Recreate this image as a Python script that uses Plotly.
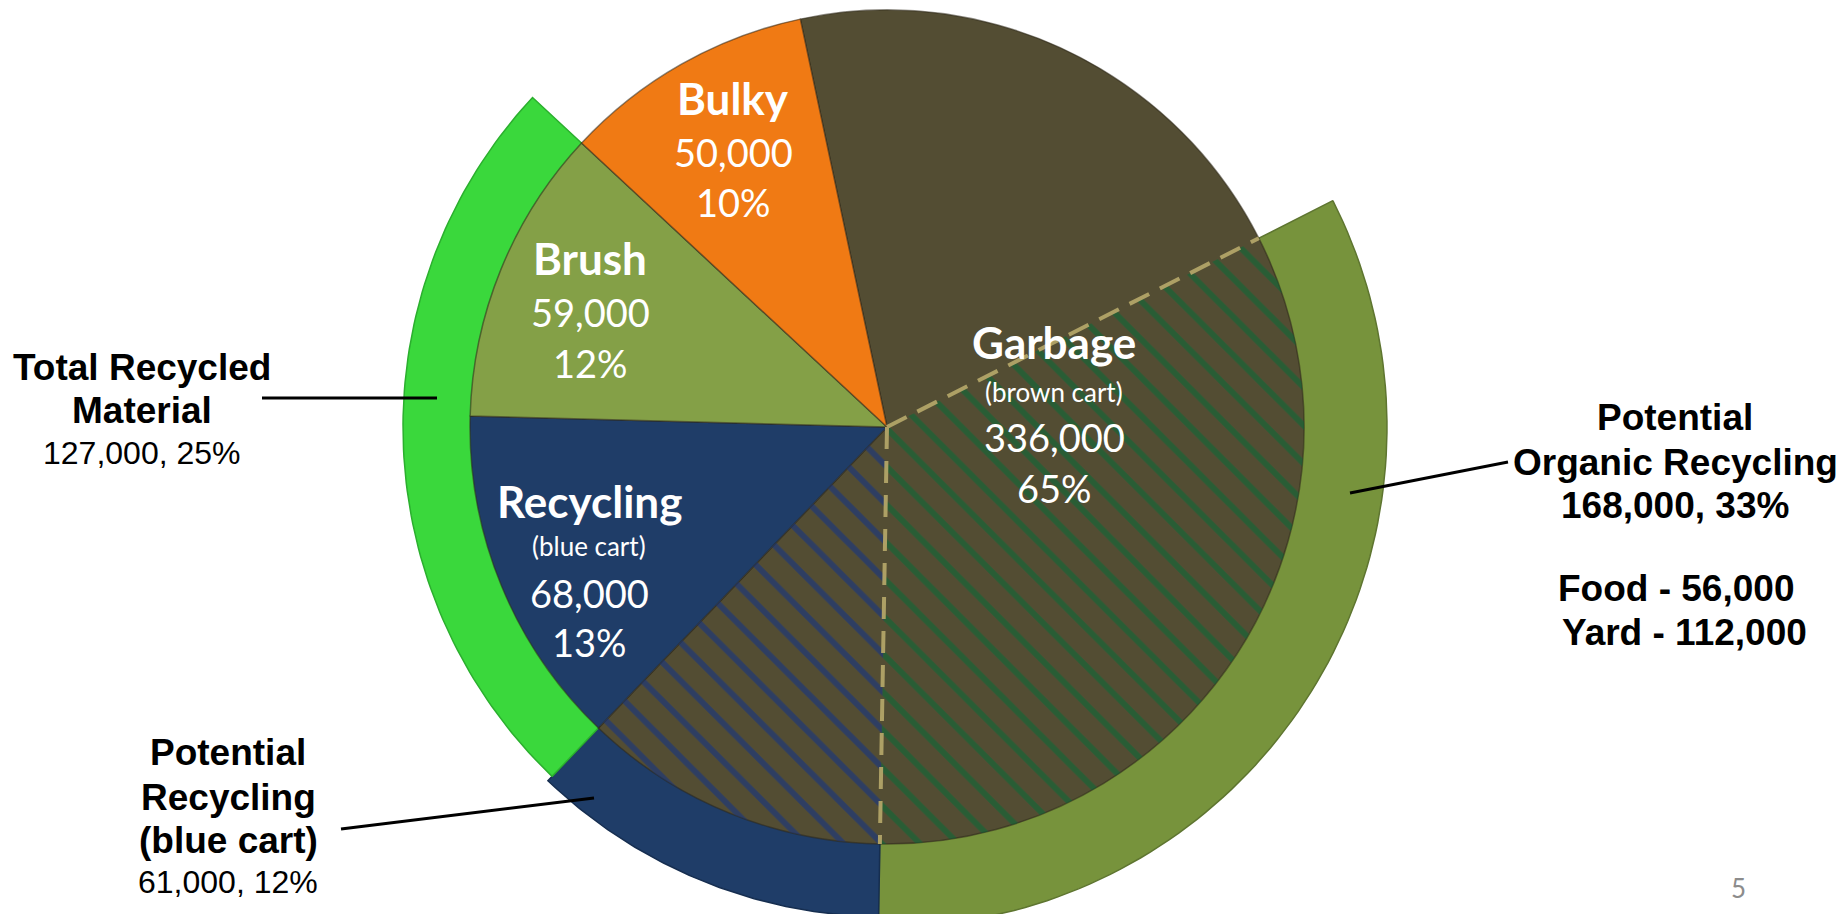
import math
import plotly.graph_objects as go

# ---------------- data ----------------
categories = ["Garbage", "Recycling", "Brush", "Bulky"]
tonnage = [336000, 68000, 59000, 50000]
sublabels = ["(brown cart)", "(blue cart)", "", ""]
slice_colors = ["#534D33", "#1F3D68", "#84A047", "#F07A14"]

potential_organic = 168000      # inside the garbage slice
organic_split_labels = ["Food", "Yard"]
organic_split_values = [56000, 112000]
potential_recycling = 61000     # inside the garbage slice
total_recycled = tonnage[1] + tonnage[2]   # recycling + brush

total = sum(tonnage)
garbage_other = tonnage[0] - potential_organic - potential_recycling
segment_values = [garbage_other, potential_organic, potential_recycling,
                  tonnage[1], tonnage[2], tonnage[3]]
ring_values = [garbage_other, potential_organic, potential_recycling,
               total_recycled, tonnage[3]]


def pct(v):
    return f"{round(100 * v / total)}%"


# ---------------- geometry / style ----------------
OFF = 8                      # page body margin
FW, FH = 1847 - 2 * OFF, 922 - 2 * OFF
CX, CY = 887, 427            # screen coords of pie centre
R_PIE = 417
ROT = -12
CLEAR = "rgba(0,0,0,0)"


def fx(x):
    return (x - OFF) / FW


def fy(y):
    return 1 - (y - OFF) / FH


def domain_for(r):
    return dict(x=[fx(CX - r), fx(CX + r)], y=[fy(CY + r), fy(CY - r)])


fig = go.Figure()

# ---------------- outer ring segments (xy axes in screen pixels) ----------------
cum = [0]
for v in ring_values:
    cum.append(cum[-1] + v)


def ring_segment(idx, color, edge, r_out, r_in=R_PIE - 2):
    a0 = ROT + 360 * cum[idx] / total
    a1 = ROT + 360 * cum[idx + 1] / total
    n = 90
    angs = [a0 + (a1 - a0) * k / n for k in range(n + 1)]
    xs = [CX + r_out * math.sin(math.radians(a)) for a in angs]
    ys = [CY - r_out * math.cos(math.radians(a)) for a in angs]
    xs += [CX + r_in * math.sin(math.radians(a)) for a in reversed(angs)]
    ys += [CY - r_in * math.cos(math.radians(a)) for a in reversed(angs)]
    xs.append(xs[0])
    ys.append(ys[0])
    return go.Scatter(x=xs, y=ys, mode="lines", fill="toself", fillcolor=color,
                      line=dict(color=edge, width=1.5), hoverinfo="skip", showlegend=False)


fig.add_trace(ring_segment(1, "#77933C", "#5E7530", 500))
fig.add_trace(ring_segment(2, "#1F3D68", "#162E50", 490))
fig.add_trace(ring_segment(3, "#3AD83C", "#2BAF2E", 484))

# ---------------- main pie ----------------
fig.add_trace(go.Pie(labels=categories, values=tonnage, sort=False,
                     direction="clockwise", rotation=ROT, domain=domain_for(R_PIE),
                     marker=dict(colors=slice_colors,
                                 line=dict(color="rgba(45,40,25,0.55)", width=1.5)),
                     textinfo="none", hoverinfo="label+value", showlegend=False))

# hatched overlay for potential organic / potential recycling inside garbage
fig.add_trace(go.Pie(values=segment_values, sort=False, direction="clockwise",
                     rotation=ROT, domain=domain_for(R_PIE),
                     marker=dict(colors=[CLEAR] * 6,
                                 line=dict(width=0),
                                 pattern=dict(shape=["", "\\", "\\", "", "", ""],
                                              fgcolor=[CLEAR, "#006E38", "#0A2F92", CLEAR, CLEAR, CLEAR],
                                              bgcolor=CLEAR, size=27, solidity=0.22,
                                              fillmode="overlay")),
                     textinfo="none", hoverinfo="skip", showlegend=False))

# dashed boundaries at the data angles
a_start = ROT + 360 * garbage_other / total
a_mid = a_start + 360 * potential_organic / total
for a in (a_start, a_mid):
    rad = math.radians(a)
    fig.add_shape(type="line", xref="x", yref="y", x0=CX, y0=CY,
                  x1=CX + R_PIE * math.sin(rad), y1=CY - R_PIE * math.cos(rad),
                  line=dict(color="#ADA065", width=4, dash="22px,12px"), layer="above")

# ---------------- labels ----------------
INNER = "Lato, Calibri, Carlito, sans-serif"
OUT = "Arial, Liberation Sans, sans-serif"


def add_text(x, y, text, size, family, color="white", bold=False):
    fig.add_annotation(x=x, y=y, xref="x", yref="y", showarrow=False,
                       text=f"<b>{text}</b>" if bold else text,
                       font=dict(family=family, size=size, color=color),
                       xanchor="center", yanchor="middle")


label_pos = {"Garbage": (1054, [342, 392, 437, 488]),
             "Recycling": (589, [501, 546, 593, 642]),
             "Brush": (590, [258, 312, 363]),
             "Bulky": (733, [98, 152, 202])}

for name, val, sub in zip(categories, tonnage, sublabels):
    x, ys = label_pos[name]
    lines = [(name, 44, True)]
    if sub:
        lines.append((sub, 26, False))
    lines += [(f"{val:,}", 38, False), (pct(val), 38, False)]
    for (t, s, b), y in zip(lines, ys):
        add_text(x, y, t, s, INNER, bold=b)

add_text(142, 367, "Total Recycled", 37, OUT, "black", True)
add_text(142, 410, "Material", 37, OUT, "black", True)
add_text(142, 453, f"{total_recycled:,}, {pct(total_recycled)}", 32, OUT, "black")

add_text(228, 752, "Potential", 37, OUT, "black", True)
add_text(228, 797, "Recycling", 37, OUT, "black", True)
add_text(228, 840, "(blue cart)", 37, OUT, "black", True)
add_text(228, 882, f"{potential_recycling:,}, {pct(potential_recycling)}", 32, OUT, "black")

add_text(1675, 417, "Potential", 37, OUT, "black", True)
add_text(1675, 462, "Organic Recycling", 37, OUT, "black", True)
add_text(1675, 505, f"{potential_organic:,}, {pct(potential_organic)}", 37, OUT, "black", True)
add_text(1676, 588, f"{organic_split_labels[0]} - {organic_split_values[0]:,}", 37, OUT, "black", True)
add_text(1684, 632, f"{organic_split_labels[1]} - {organic_split_values[1]:,}", 37, OUT, "black", True)

add_text(1738, 888, "5", 26, INNER, "#8C8C8C")

for (xa, ya, xb, yb) in [(262, 398, 437, 398), (341, 829, 594, 798), (1350, 493, 1508, 462)]:
    fig.add_shape(type="line", xref="x", yref="y", x0=xa, y0=ya, x1=xb, y1=yb,
                  line=dict(color="black", width=3), layer="above")

fig.update_layout(width=FW, height=FH, margin=dict(l=0, r=0, t=0, b=0),
                  paper_bgcolor="white", plot_bgcolor="white", showlegend=False,
                  xaxis=dict(range=[OFF, OFF + FW], visible=False, fixedrange=True),
                  yaxis=dict(range=[OFF + FH, OFF], visible=False, fixedrange=True))

fig.write_html("out.html")
